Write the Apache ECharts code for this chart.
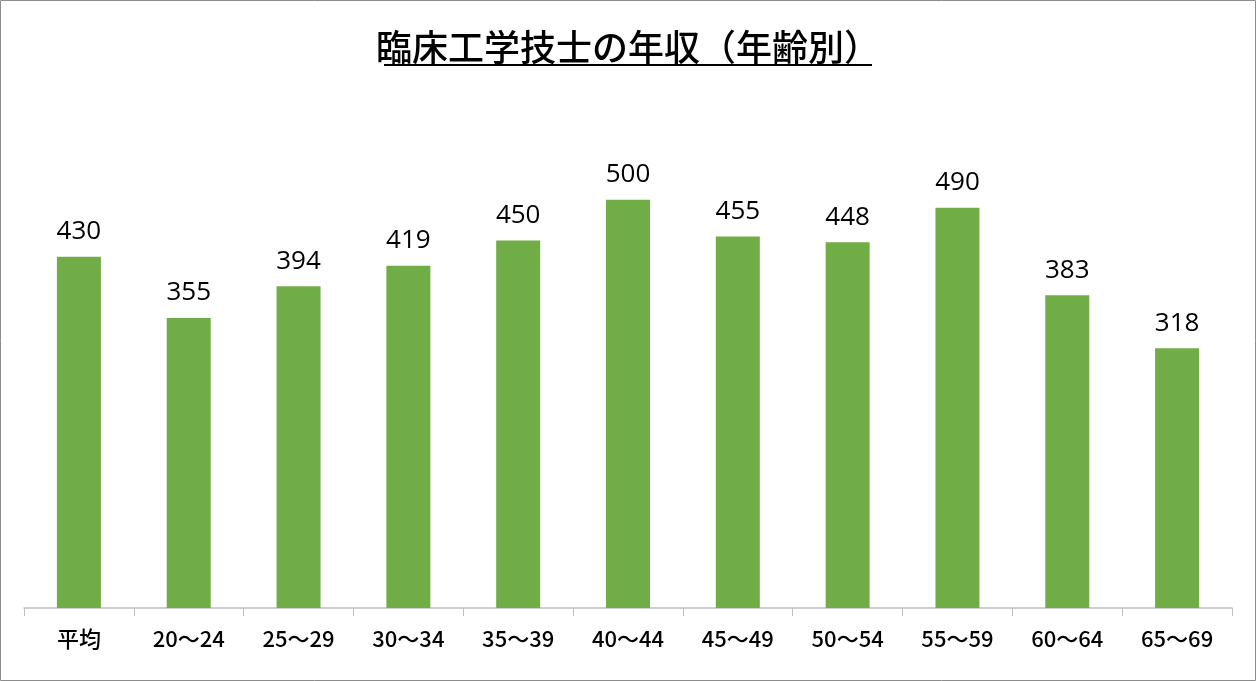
<!DOCTYPE html>
<html><head><meta charset="utf-8">
<script src="https://cdn.jsdelivr.net/npm/echarts@6/dist/echarts.min.js"></script>
<style>html,body{margin:0;padding:0;background:#fff}#c{width:1256px;height:681px}</style>
</head><body><div id="c"></div>
<script>
const categories = ['平均','20～24','25～29','30～34','35～39','40～44','45～49','50～54','55～59','60～64','65～69'];
const values = [430,355,394,419,450,500,455,448,490,383,318];
const chart = echarts.init(document.getElementById('c'));
chart.setOption({
  animation:false,
  title:{text:'臨床工学技士の年収（年齢別）',left:'center',top:24,
    textStyle:{fontFamily:'Noto Sans CJK JP',fontSize:36,fontWeight:500,color:'#000'}},
  graphic:[
    {type:'rect',shape:{x:0.5,y:0.5,width:1255,height:680},style:{fill:null,stroke:'#8c8c8c',lineWidth:1}},
    {type:'line',shape:{x1:384,y1:65,x2:872,y2:65},style:{stroke:'#000',lineWidth:2}}
  ],
  grid:{left:24,right:24,top:118,bottom:73},
  xAxis:{type:'category',data:categories,
    axisLine:{lineStyle:{color:'#bfbfbf',width:1.5}},
    axisTick:{show:true,length:8,lineStyle:{color:'#bfbfbf'}},
    axisLabel:{color:'#000',fontSize:22,margin:20,fontWeight:500,fontFamily:'Noto Sans CJK JP'}},
  yAxis:{type:'value',min:0,max:600,show:false,splitLine:{show:false}},
  series:[{type:'bar',data:values,barWidth:44,itemStyle:{color:'#70ad47'},
    label:{show:true,position:'top',distance:12,color:'#000',fontSize:26,fontFamily:'Open Sans'}}]
});
</script></body></html>
